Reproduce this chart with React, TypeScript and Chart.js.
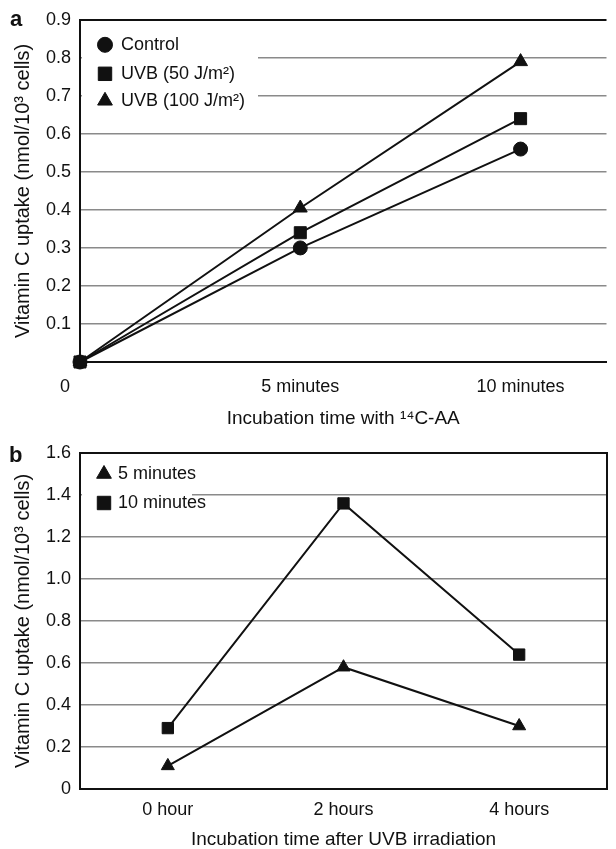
import React, { useEffect, useRef } from "react";
import { Chart, registerables } from "chart.js";
import { drawPoint } from "chart.js/helpers";

Chart.register(...registerables);

const FONT = "'Liberation Sans', Arial, Helvetica, sans-serif";
const INK = "#111";
const GRID = "#8a8a8a";

// ---- Panel a data ----
const aTimes = [0, 5, 10];
const aTickLabels = ["0\u00a0\u00a0\u00a0\u00a0\u00a0\u00a0", "5 minutes", "10 minutes"];
const aControl = [0, 0.3, 0.56];
const aUvb50 = [0, 0.34, 0.64];
const aUvb100 = [0, 0.405, 0.79];
const aLegend = ["Control", "UVB (50 J/m\u00b2)", "UVB (100 J/m\u00b2)"];
const aYTicks = [0.1, 0.2, 0.3, 0.4, 0.5, 0.6, 0.7, 0.8, 0.9];
const aXTitle = "Incubation time with \u00b9\u2074C-AA";

// ---- Panel b data ----
const bCategories = ["0 hour", "2 hours", "4 hours"];
const b5min = [0.11, 0.58, 0.3];
const b10min = [0.29, 1.36, 0.64];
const bLegend = ["5 minutes", "10 minutes"];
const bYTicks = [0, 0.2, 0.4, 0.6, 0.8, 1.0, 1.2, 1.4, 1.6];
const bXTitle = "Incubation time after UVB irradiation";

const yTitle = "Vitamin C uptake (nmol/10\u00b3 cells)";

type LegendItem = { label: string; style: string; radius: number };

function makeLegendPlugin(
  id: string,
  items: LegendItem[],
  box: { x0: number; x1: number; y0: number; y1: number },
  rows: number[],
  markerX: number,
  textX: number
) {
  return {
    id,
    beforeDatasetsDraw(chart: any) {
      const { ctx, chartArea } = chart;
      const L = chartArea.left;
      const T = chartArea.top;
      ctx.save();
      ctx.fillStyle = "#fff";
      ctx.fillRect(L + box.x0, T + box.y0, box.x1 - box.x0, box.y1 - box.y0);
      items.forEach((it, i) => {
        ctx.fillStyle = INK;
        ctx.strokeStyle = INK;
        ctx.lineWidth = 1;
        drawPoint(
          ctx,
          { pointStyle: it.style as any, radius: it.radius, rotation: 0, borderWidth: 1 } as any,
          L + markerX,
          T + rows[i]
        );
        ctx.fillStyle = INK;
        ctx.font = `18px ${FONT}`;
        ctx.textBaseline = "middle";
        ctx.textAlign = "left";
        ctx.fillText(it.label, L + textX, T + rows[i]);
      });
      ctx.restore();
    },
  };
}

const framePlugin = {
  id: "frameRight",
  afterDraw(chart: any) {
    const { ctx, chartArea } = chart;
    ctx.save();
    ctx.strokeStyle = INK;
    ctx.lineWidth = 2;
    ctx.beginPath();
    ctx.moveTo(chartArea.right, chartArea.top - 1);
    ctx.lineTo(chartArea.right, chartArea.bottom + 1);
    ctx.stroke();
    ctx.restore();
  },
};

const tickFont = { family: FONT, size: 18 };
const xTitleFont = { family: FONT, size: 19 };
const yTitleFont = { family: FONT, size: 20 };

export default function App() {
  const refA = useRef<HTMLCanvasElement | null>(null);
  const refB = useRef<HTMLCanvasElement | null>(null);

  useEffect(() => {
    const lineDs = {
      borderColor: INK,
      backgroundColor: INK,
      pointBackgroundColor: INK,
      pointBorderColor: INK,
      borderWidth: 2,
      pointBorderWidth: 1,
      tension: 0,
      clip: false as any,
    };

    const chartA = new Chart(refA.current as HTMLCanvasElement, {
      type: "line",
      data: {
        datasets: [
          {
            ...lineDs,
            label: aLegend[0],
            data: aTimes.map((t, i) => ({ x: t, y: aControl[i] })),
            pointStyle: "circle",
            pointRadius: 7,
            order: 2,
          },
          {
            ...lineDs,
            label: aLegend[1],
            data: aTimes.map((t, i) => ({ x: t, y: aUvb50[i] })),
            pointStyle: "rect",
            pointRadius: 8.5,
            order: 0,
          },
          {
            ...lineDs,
            label: aLegend[2],
            data: aTimes.map((t, i) => ({ x: t, y: aUvb100[i] })),
            pointStyle: "triangle",
            pointRadius: 8,
            order: 1,
          },
        ],
      },
      options: {
        animation: false,
        responsive: false,
        layout: { padding: { left: 0, top: 19, right: 0, bottom: 0 } },
        plugins: { legend: { display: false }, tooltip: { enabled: false } },
        scales: {
          x: {
            type: "linear",
            min: 0,
            max: 11.95,
            afterBuildTicks: (s: any) => {
              s.ticks = aTimes.map((v) => ({ value: v }));
            },
            afterFit: (s: any) => {
              s.height = 68;
            },
            ticks: {
              callback: (v: any) => aTickLabels[aTimes.indexOf(Number(v))],
              font: tickFont,
              color: INK,
              padding: 14,
              maxRotation: 0,
              autoSkip: false,
            },
            grid: { display: false, drawTicks: false },
            border: { display: true, color: INK, width: 2 },
            title: {
              display: true,
              text: aXTitle,
              font: xTitleFont,
              color: INK,
              padding: { top: 0, bottom: 0 },
            },
          },
          y: {
            type: "linear",
            min: 0,
            max: 0.9,
            afterBuildTicks: (s: any) => {
              s.ticks = aYTicks.map((v) => ({ value: v }));
            },
            afterFit: (s: any) => {
              s.width = 80;
            },
            ticks: {
              callback: (v: any) => Number(v).toFixed(1),
              font: tickFont,
              color: INK,
              padding: 9,
            },
            grid: {
              drawTicks: false,
              color: (c: any) => (c.tick && c.tick.value >= 0.899 ? INK : GRID),
              lineWidth: (c: any) => (c.tick && c.tick.value >= 0.899 ? 2 : 1.5),
            },
            border: { display: true, color: INK, width: 2 },
            title: {
              display: true,
              text: yTitle,
              font: yTitleFont,
              color: INK,
              padding: { top: 11, bottom: 0 },
            },
          },
        },
      } as any,
      plugins: [
        makeLegendPlugin(
          "legendA",
          [
            { label: aLegend[0], style: "circle", radius: 7.5 },
            { label: aLegend[1], style: "rect", radius: 9.5 },
            { label: aLegend[2], style: "triangle", radius: 8.5 },
          ],
          { x0: 2, x1: 178, y0: 6, y1: 96 },
          [25, 54, 81],
          25,
          41
        ),
      ],
    });

    const chartB = new Chart(refB.current as HTMLCanvasElement, {
      type: "line",
      data: {
        labels: bCategories,
        datasets: [
          {
            ...lineDs,
            label: bLegend[0],
            data: b5min,
            pointStyle: "triangle",
            pointRadius: 7.5,
          },
          {
            ...lineDs,
            label: bLegend[1],
            data: b10min,
            pointStyle: "rect",
            pointRadius: 8,
          },
        ],
      },
      options: {
        animation: false,
        responsive: false,
        layout: { padding: { left: 0, top: 23, right: 3, bottom: 0 } },
        plugins: { legend: { display: false }, tooltip: { enabled: false } },
        scales: {
          x: {
            type: "category",
            offset: true,
            afterFit: (s: any) => {
              s.height = 60;
            },
            ticks: {
              font: tickFont,
              color: INK,
              padding: 10,
              maxRotation: 0,
              autoSkip: false,
            },
            grid: { display: false, drawTicks: false },
            border: { display: true, color: INK, width: 2 },
            title: {
              display: true,
              text: bXTitle,
              font: { family: FONT, size: 19, lineHeight: 1 },
              color: INK,
              padding: { top: 0, bottom: 0 },
            },
          },
          y: {
            type: "linear",
            min: 0,
            max: 1.6,
            afterBuildTicks: (s: any) => {
              s.ticks = bYTicks.map((v) => ({ value: v }));
            },
            afterFit: (s: any) => {
              s.width = 80;
            },
            ticks: {
              callback: (v: any) => (Number(v) === 0 ? "0" : Number(v).toFixed(1)),
              font: tickFont,
              color: INK,
              padding: 9,
            },
            grid: {
              drawTicks: false,
              color: (c: any) =>
                c.tick && c.tick.value >= 1.599 ? INK : c.tick && c.tick.value === 0 ? "rgba(0,0,0,0)" : GRID,
              lineWidth: (c: any) => (c.tick && c.tick.value >= 1.599 ? 2 : 1.5),
            },
            border: { display: true, color: INK, width: 2 },
            title: {
              display: true,
              text: yTitle,
              font: yTitleFont,
              color: INK,
              padding: { top: 11, bottom: 0 },
            },
          },
        },
      } as any,
      plugins: [
        makeLegendPlugin(
          "legendB",
          [
            { label: bLegend[0], style: "triangle", radius: 8.5 },
            { label: bLegend[1], style: "rect", radius: 9.5 },
          ],
          { x0: 2, x1: 112, y0: 5, y1: 62 },
          [21, 50],
          24,
          38
        ),
        framePlugin,
      ],
    });

    return () => {
      chartA.destroy();
      chartB.destroy();
    };
  }, []);

  const panelLabel: React.CSSProperties = {
    position: "absolute",
    fontFamily: FONT,
    fontWeight: "bold",
    fontSize: 22,
    lineHeight: "22px",
    color: INK,
  };

  return (
    <div style={{ position: "absolute", left: 0, top: 0, width: 616, height: 849, background: "#fff" }}>
      <canvas ref={refA} width={616} height={430} style={{ position: "absolute", left: 0, top: 0, display: "block" }} />
      <canvas ref={refB} width={616} height={419} style={{ position: "absolute", left: 0, top: 430, display: "block" }} />
      <div style={{ ...panelLabel, left: 10, top: 8 }}>a</div>
      <div style={{ ...panelLabel, left: 9, top: 444 }}>b</div>
    </div>
  );
}
